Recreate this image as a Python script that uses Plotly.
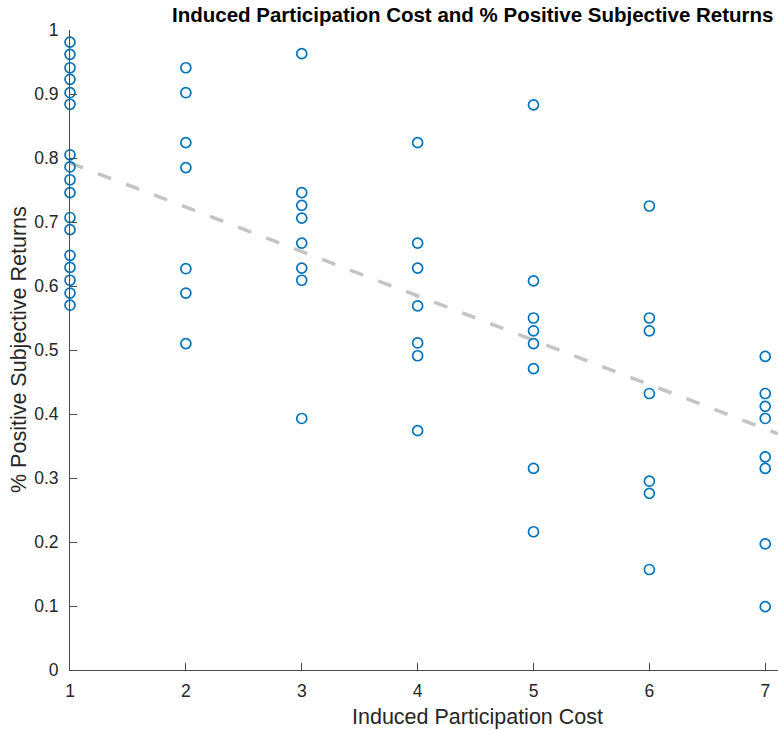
import plotly.graph_objects as go

# Induced participation cost levels and the share of positive subjective returns at each level
cost_levels = [1, 2, 3, 4, 5, 6, 7]
returns_by_cost = {
    1: [0.981, 0.962, 0.941, 0.923, 0.902, 0.884, 0.805, 0.786, 0.766,
        0.746, 0.707, 0.688, 0.648, 0.629, 0.609, 0.589, 0.570],
    2: [0.941, 0.902, 0.824, 0.785, 0.627, 0.589, 0.510],
    3: [0.963, 0.746, 0.726, 0.706, 0.667, 0.628, 0.609, 0.393],
    4: [0.824, 0.667, 0.628, 0.569, 0.511, 0.491, 0.374],
    5: [0.883, 0.608, 0.550, 0.530, 0.510, 0.471, 0.315, 0.216],
    6: [0.725, 0.550, 0.530, 0.432, 0.295, 0.276, 0.157],
    7: [0.490, 0.432, 0.412, 0.393, 0.333, 0.315, 0.197, 0.099],
}

# Linear trend: value at cost 1 and change per unit of cost
trend_intercept_at_1 = 0.7925
trend_slope = -0.0693

x_tick_labels = ["1", "2", "3", "4", "5", "6", "7"]
y_tick_values = [0, 0.1, 0.2, 0.3, 0.4, 0.5, 0.6, 0.7, 0.8, 0.9, 1]
y_tick_labels = ["0", "0.1", "0.2", "0.3", "0.4", "0.5", "0.6", "0.7", "0.8", "0.9", "1"]

title_text = "Induced Participation Cost and % Positive Subjective Returns"
x_label = "Induced Participation Cost"
y_label = "% Positive Subjective Returns"

# Visible window of the axes; the full axes runs on past the right edge of the page,
# so the x label is centred on that wider span.
x_range = [1, 7.11]
full_axes_center = 0.576   # paper fraction of the centre of the full axes span

xs, ys = [], []
for c in cost_levels:
    for v in returns_by_cost[c]:
        xs.append(c)
        ys.append(v)

trend_x = x_range
trend_y = [trend_intercept_at_1 + trend_slope * (x - 1) for x in trend_x]

FONT = "Liberation Sans, Arial, Helvetica, sans-serif"

fig = go.Figure()

fig.add_trace(go.Scatter(
    x=trend_x, y=trend_y, mode="lines",
    line=dict(color="#c4c4c4", width=3.5, dash="14px,16px"),
    hoverinfo="skip", cliponaxis=False,
))

fig.add_trace(go.Scatter(
    x=xs, y=ys, mode="markers",
    marker=dict(symbol="circle-open", size=10, color="#0072BD",
                line=dict(width=1.7, color="#0072BD")),
    cliponaxis=False,
))

tick_font = dict(family=FONT, size=17.5, color="#262626")
label_font = dict(family=FONT, size=21.5, color="#262626")

fig.update_layout(
    width=778, height=730,
    margin=dict(l=70, r=0, t=30, b=60),
    paper_bgcolor="white", plot_bgcolor="white",
    showlegend=False,
    xaxis=dict(
        range=x_range, tickmode="array", tickvals=cost_levels, ticktext=x_tick_labels,
        ticks="inside", ticklen=7, tickcolor="#4a4a4a", tickwidth=1,
        showline=True, linecolor="#4a4a4a", linewidth=1,
        showgrid=False, zeroline=False, tickfont=tick_font, ticklabelstandoff=5,
    ),
    yaxis=dict(
        range=[0, 1], tickmode="array", tickvals=y_tick_values, ticktext=y_tick_labels,
        ticks="inside", ticklen=7, tickcolor="#4a4a4a", tickwidth=1,
        showline=True, linecolor="#4a4a4a", linewidth=1,
        showgrid=False, zeroline=False, tickfont=tick_font, ticklabelstandoff=7,
    ),
    annotations=[
        dict(text="<b>" + title_text + "</b>", xref="paper", yref="paper",
             x=705 / 708, y=1.0 + 16 / 640, xanchor="right", yanchor="middle",
             showarrow=False, font=dict(family=FONT, size=20.5, color="#000000")),
        dict(text=x_label, xref="paper", yref="paper",
             x=full_axes_center, y=-47 / 640, xanchor="center", yanchor="middle",
             showarrow=False, font=label_font),
        dict(text=y_label, xref="paper", yref="paper", textangle=-90,
             x=-51 / 708, y=0.5, xanchor="center", yanchor="middle",
             showarrow=False, font=label_font),
    ],
)

fig.write_html("out.html")
